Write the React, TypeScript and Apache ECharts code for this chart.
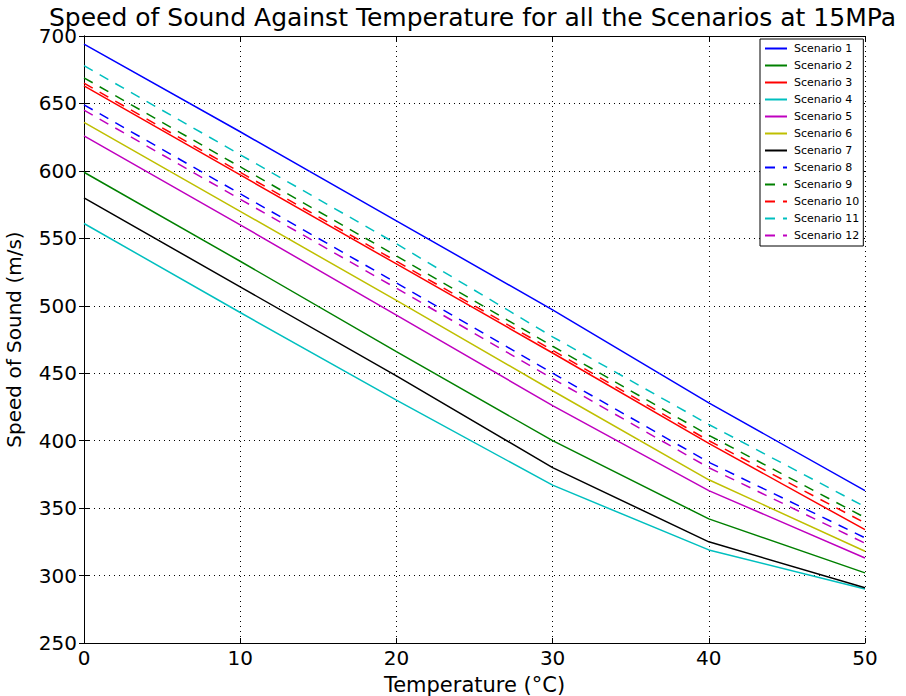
import React, { useEffect, useRef } from "react";
import * as echarts from "echarts";

const temperatures = [0, 10, 20, 30, 40, 50];
const scenarioNames = [
  "Scenario 1", "Scenario 2", "Scenario 3", "Scenario 4", "Scenario 5", "Scenario 6",
  "Scenario 7", "Scenario 8", "Scenario 9", "Scenario 10", "Scenario 11", "Scenario 12",
];
const s1 = [694, 629, 563, 497, 428, 363];
const s2 = [599, 533, 466, 400, 342, 302];
const s3 = [663, 597, 531, 465, 398, 334];
const s4 = [561, 495, 430, 367, 319, 290];
const s5 = [626, 560, 493, 426, 363, 313];
const s6 = [636, 570, 504, 437, 371, 318];
const s7 = [580, 514, 448, 380, 325, 291];
const s8 = [649, 583, 517, 450, 384, 328];
const s9 = [669, 603, 537, 470, 404, 343];
const s10 = [665, 599, 533, 467, 400, 339];
const s11 = [678, 612, 546, 477, 412, 351];
const s12 = [645, 579, 513, 446, 380, 324];
const seriesValues = [s1, s2, s3, s4, s5, s6, s7, s8, s9, s10, s11, s12];
const seriesColors = [
  "#0000ff", "#008000", "#ff0000", "#00bfbf", "#bf00bf", "#bfbf00", "#000000",
  "#0000ff", "#008000", "#ff0000", "#00bfbf", "#bf00bf",
];
const seriesDashed = [false, false, false, false, false, false, false, true, true, true, true, true];

const FONT = "DejaVu Sans";

export default function App() {
  const ref = useRef<HTMLDivElement>(null);
  useEffect(() => {
    if (!ref.current) return;
    const chart = echarts.init(ref.current, undefined, { renderer: "svg" });
    const gridLine = { show: true, lineStyle: { color: "#000", type: [1, 4] as any, width: 1 } };
    chart.setOption({
      animation: false,
      backgroundColor: "#fff",
      title: {
        text: "Speed of Sound Against Temperature for all the Scenarios at 15MPa",
        left: 44,
        top: 0,
        textStyle: { fontFamily: FONT, fontSize: 25, fontWeight: "normal", color: "#000" },
      },
      grid: { left: 84, top: 36, right: 41, bottom: 53, containLabel: false, outerBoundsMode: "none" },
      legend: {
        orient: "vertical",
        left: 760,
        top: 39,
        width: 100,
        padding: [4, 4, 5, 4],
        itemWidth: 22,
        itemHeight: 12,
        itemGap: 6,
        borderColor: "#000",
        borderWidth: 1,
        backgroundColor: "#fff",
        itemStyle: { color: "rgba(0,0,0,0)", borderWidth: 0, opacity: 0 },
        textStyle: { fontFamily: FONT, fontSize: 11, color: "#000", padding: [0, 0, 0, 2] },
        data: scenarioNames,
      },
      xAxis: [
        {
          type: "value",
          min: 0,
          max: 50,
          interval: 10,
          name: "Temperature (°C)",
          nameLocation: "middle",
          nameGap: 31,
          nameTextStyle: { fontFamily: FONT, fontSize: 21, color: "#000" },
          axisLine: { show: true, lineStyle: { color: "#000", width: 1 } },
          axisTick: { show: true, inside: true, length: 5, lineStyle: { color: "#000" } },
          axisLabel: { fontFamily: FONT, fontSize: 20, color: "#000", margin: 5 },
          splitLine: gridLine,
        },
        {
          type: "value",
          position: "top",
          min: 0,
          max: 50,
          interval: 10,
          axisLine: { show: true, lineStyle: { color: "#000", width: 1 } },
          axisTick: { show: true, inside: true, length: 5, lineStyle: { color: "#000" } },
          axisLabel: { show: false },
          splitLine: { show: false },
        },
      ],
      yAxis: [
        {
          type: "value",
          min: 250,
          max: 700,
          interval: 50,
          name: "Speed of Sound (m/s)",
          nameLocation: "middle",
          nameGap: 60,
          nameTextStyle: { fontFamily: FONT, fontSize: 20, color: "#000" },
          axisLine: { show: true, lineStyle: { color: "#000", width: 1 } },
          axisTick: { show: true, inside: true, length: 5, lineStyle: { color: "#000" } },
          axisLabel: { fontFamily: FONT, fontSize: 20, color: "#000", margin: 7 },
          splitLine: gridLine,
        },
        {
          type: "value",
          position: "right",
          min: 250,
          max: 700,
          interval: 50,
          axisLine: { show: true, lineStyle: { color: "#000", width: 1 } },
          axisTick: { show: true, inside: true, length: 5, lineStyle: { color: "#000" } },
          axisLabel: { show: false },
          splitLine: { show: false },
        },
      ],
      series: scenarioNames.map((name, i) => ({
        name,
        type: "line",
        xAxisIndex: 0,
        yAxisIndex: 0,
        symbol: "none",
        showSymbol: false,
        color: seriesColors[i],
        lineStyle: {
          color: seriesColors[i],
          width: 1.5,
          type: seriesDashed[i] ? [10, 8] : "solid",
        },
        data: temperatures.map((t, j) => [t, seriesValues[i][j]]),
      })),
    });
    return () => chart.dispose();
  }, []);
  return <div ref={ref} style={{ width: 906, height: 696, position: "absolute", left: 0, top: 0 }} />;
}
